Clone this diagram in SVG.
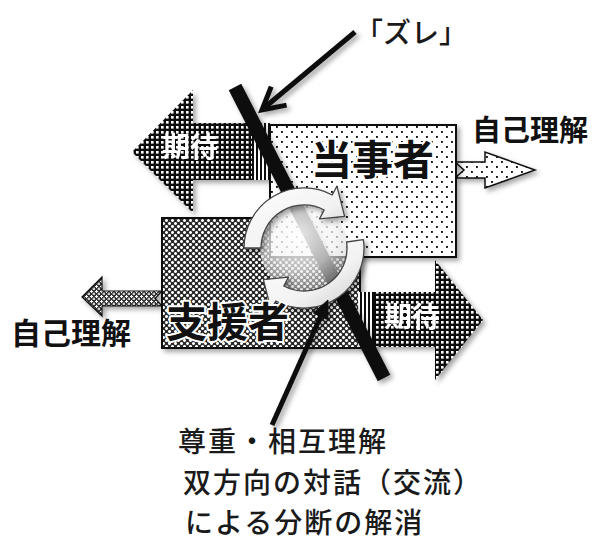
<svg xmlns="http://www.w3.org/2000/svg" width="596" height="542" viewBox="0 0 596 542">
<defs>
<style>
.jp{font-family:"Noto Sans CJK JP","Noto Sans CJK SC",sans-serif;}
.lbl{font-weight:700;fill:#111;}
.exp{font-weight:700;fill:#fff;font-size:28px;}
.big{font-weight:700;fill:#111;font-size:41px;stroke:#fff;stroke-width:4;paint-order:stroke;stroke-linejoin:round;}
.note{font-weight:500;fill:#1a1a1a;font-size:28px;letter-spacing:2px;}
.edge{stroke:#111;stroke-width:2;}
</style>
<pattern id="pDark" width="5" height="5" patternUnits="userSpaceOnUse">
<rect width="5" height="5" fill="#111"/>
<rect x="1" y="1" width="2.6" height="2.6" fill="#fff"/>
</pattern>
<pattern id="pSparse" width="10" height="10" patternUnits="userSpaceOnUse">
<rect width="10" height="10" fill="#fff"/>
<rect x="1" y="1" width="1.9" height="1.9" fill="#111"/>
<rect x="6" y="6" width="1.9" height="1.9" fill="#111"/>
</pattern>
<pattern id="pCross" width="6" height="6" patternUnits="userSpaceOnUse">
<rect width="6" height="6" fill="#2a2a2a"/>
<rect x="0.7" y="0" width="1.6" height="3" fill="#fff"/>
<rect x="0" y="0.7" width="3" height="1.6" fill="#fff"/>
<rect x="3.7" y="3" width="1.6" height="3" fill="#fff"/>
<rect x="3" y="3.7" width="3" height="1.6" fill="#fff"/>
</pattern>
<pattern id="pCrossFine" width="5" height="5" patternUnits="userSpaceOnUse">
<rect width="5" height="5" fill="#333"/>
<rect x="1" y="0" width="1" height="3" fill="#fff"/>
<rect x="0" y="1" width="3" height="1" fill="#fff"/>
<rect x="3.5" y="2.5" width="1" height="2.5" fill="#fff"/>
<rect x="2.5" y="3.5" width="2.5" height="1" fill="#fff"/>
</pattern>
<pattern id="pStripe" width="4" height="4" patternUnits="userSpaceOnUse">
<rect width="4" height="4" fill="#fff"/>
<rect x="0" width="2" height="4" fill="#111"/>
</pattern>
<filter id="sh" x="-20%" y="-20%" width="140%" height="140%">
<feDropShadow dx="3" dy="3" stdDeviation="2.5" flood-color="#000" flood-opacity="0.35"/>
</filter>
<radialGradient id="lens" cx="0.45" cy="0.35" r="0.65">
<stop offset="0" stop-color="#fff" stop-opacity="0.9"/>
<stop offset="0.6" stop-color="#f4f4f4" stop-opacity="0.72"/>
<stop offset="1" stop-color="#ccc" stop-opacity="0.5"/>
</radialGradient>
<linearGradient id="ring" x1="0" y1="0" x2="1" y2="1">
<stop offset="0" stop-color="#fff"/>
<stop offset="0.6" stop-color="#f2f2f2"/>
<stop offset="1" stop-color="#c8c8c8"/>
</linearGradient>
</defs>
<rect width="596" height="542" fill="#fff"/>

<g id="shienshaSelf" filter="url(#sh)">
<polygon points="82,297 102,277 102,291 162,291 155,298.5 162,306 102,306 102,316" fill="url(#pCrossFine)" stroke="#111" stroke-width="1.2"/>
</g>

<g id="shiensha" filter="url(#sh)">
<rect x="162" y="218" width="198" height="130" fill="url(#pCross)" class="edge"/>
</g>

<g id="kitaiTop" filter="url(#sh)">
<polygon points="132,152 193,90 193,123 270,123 270,180 193,180 193,213" fill="url(#pDark)"/>
<rect x="252" y="123" width="18" height="57" fill="url(#pStripe)"/>
<text class="jp exp" x="162" y="157">期待</text>
</g>

<g id="tojishaSelf" filter="url(#sh)">
<polygon points="455,162 485,162 485,152 535,170 485,188 485,178 455,178 464,170" fill="url(#pSparse)" stroke="#111" stroke-width="1.5"/>
</g>

<g id="tojisha" filter="url(#sh)">
<rect x="270" y="125" width="186" height="132" fill="url(#pSparse)" class="edge"/>
</g>

<g id="kitaiBottom" filter="url(#sh)">
<polygon points="358,292 435,292 435,260 483,320 435,380 435,347 358,347" fill="url(#pDark)"/>
<rect x="358" y="292" width="16" height="55" fill="url(#pStripe)"/>
<text class="jp exp" x="384" y="327">期待</text>
</g>

<g id="zure-line" filter="url(#sh)">
<line x1="235" y1="87" x2="384" y2="378" stroke="#111" stroke-width="14"/>
</g>

<g id="cycle">
<circle cx="304" cy="248" r="44" fill="url(#lens)"/>
<g filter="url(#sh)" fill="url(#ring)" stroke="#444" stroke-width="1.3" stroke-linejoin="round">
<path d="M244,248 A60,60 0 0 1 332.2,195 L336.9,186.2 L344.6,216.3 L319.5,218.9 L324.2,210 A43,43 0 0 0 261,248 Z"/>
<path d="M363.4,239.6 A60,60 0 0 1 275.8,301 L271.1,309.8 L263.4,279.7 L288.5,277.1 L283.8,286 A43,43 0 0 0 346.6,242 Z"/>
</g>
</g>

<g id="labels">
<text class="jp big" x="311" y="175">当事者</text>
<text class="jp big" x="166" y="337">支援者</text>
<text class="jp lbl" x="472" y="141" font-size="29">自己理解</text>
<text class="jp lbl" x="11" y="344" font-size="30">自己理解</text>
</g>

<g id="connectors" stroke="#111" fill="none" filter="url(#sh)">
<line x1="355" y1="32" x2="264" y2="108" stroke-width="5"/>
<polyline points="286.6,105.1 262,110 271.2,86.7" stroke-width="5" stroke-linejoin="miter"/>
<line x1="272" y1="425" x2="321.5" y2="314.5" stroke-width="5"/>
<polygon points="328,300 327.9,319.7 313.3,313.1" fill="#111" stroke-width="1"/>
</g>

<g id="zure">
<text class="jp note" x="355" y="43" font-size="26" style="letter-spacing:0">「ズレ」</text>
</g>

<g id="note">
<text class="jp note" x="178" y="452">尊重・相互理解</text>
<text class="jp note" x="183" y="493">双方向の対話（交流）</text>
<text class="jp note" x="185" y="533">による分断の解消</text>
</g>
</svg>
